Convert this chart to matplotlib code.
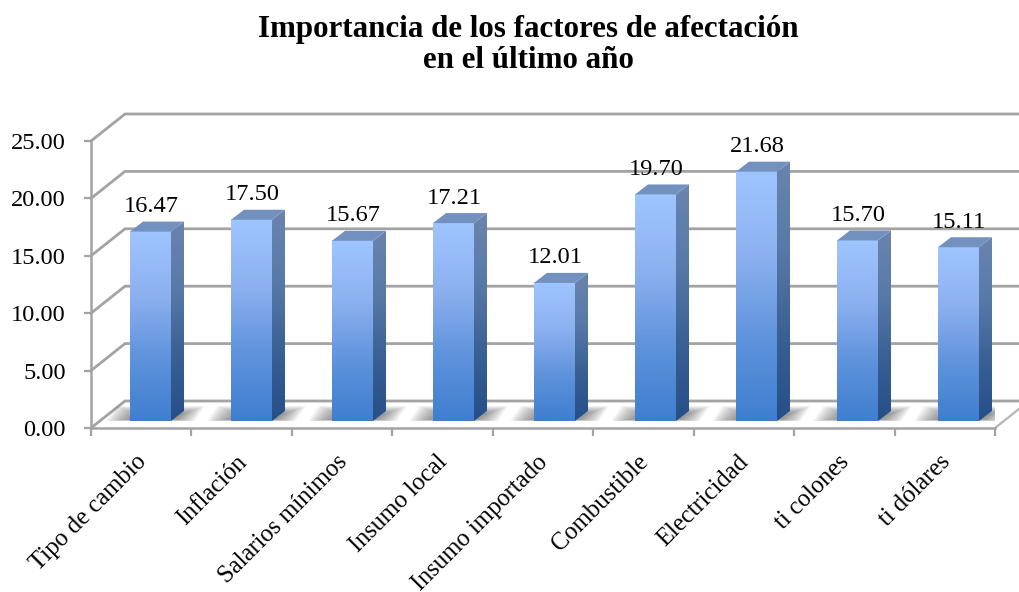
import matplotlib
matplotlib.use("Agg")
import matplotlib.pyplot as plt
import numpy as np
from matplotlib.colors import LinearSegmentedColormap
from matplotlib.patches import Polygon
from matplotlib.transforms import ScaledTranslation

categories = ["Tipo de cambio", "Inflación", "Salarios mínimos", "Insumo local",
              "Insumo importado", "Combustible", "Electricidad", "ti colones", "ti dólares"]
values = [16.47, 17.50, 15.67, 17.21, 12.01, 19.70, 21.68, 15.70, 15.11]
y_ticks = [0, 5, 10, 15, 20, 25]
title = "Importancia de los factores de afectación\nen el último año"

W, H = 1019, 592
plt.rcParams["font.family"] = ["Liberation Serif", "DejaVu Serif"]

fig = plt.figure(figsize=(W / 100, H / 100), dpi=100)
ax = fig.add_axes([91 / W, (H - 428) / H, 904 / W, 287 / H])
ax.set_xlim(0, len(categories))
ax.set_ylim(0, 25)

# pixel sizes turned into data units
px_x = len(categories) / 904
px_y = 25 / 287
depth_x, depth_y = 34 * px_x, 27 * px_y

grid_col = "#a3a3a3"
front_cmap = LinearSegmentedColormap.from_list("front", ["#9fc5ff", "#8db1f0", "#5f93dc", "#3f7ecf"])
side_cmap = LinearSegmentedColormap.from_list("side", ["#6a84ae", "#587aa8", "#3a6094", "#254f88"])
grad = np.linspace(0, 1, 256).reshape(-1, 1)

# back wall lines and floor
for v in y_ticks:
    ax.plot([0, depth_x, len(categories) + depth_x], [v, v + depth_y, v + depth_y],
            color=grid_col, lw=2, clip_on=False, zorder=1, solid_joinstyle="miter")
ax.plot([len(categories), len(categories) + depth_x], [0, depth_y],
        color="#b5b5b5", lw=1.6, clip_on=False, zorder=1)

bar_w = 41 * px_x
bar_dx, bar_dy = 13 * px_x, 10 * px_y
base_y = 7 * px_y
pitch = 101 * px_x
first_x = 39 * px_x

for i, v in enumerate(values):
    x0 = first_x + i * pitch
    x1 = x0 + bar_w
    y0 = base_y
    y1 = base_y + v * (11.5 * px_y)

    # soft floor shadow, built up from stacked parallelograms that shrink
    steps = 20
    for k in range(steps):
        grow = (steps - k) * 1.1 * px_x
        low = y0 + k * 0.06 * px_y
        high = y0 + (15 - k * 0.4) * px_y
        ax.add_patch(Polygon([(x0 - 2 * px_x - grow, low), (x1 + 2 * px_x + grow, low),
                              (x1 + 12 * px_x + grow, high),
                              (x0 + 8 * px_x - grow, high)],
                             closed=True, fc="#555555", ec="none", alpha=0.04, zorder=2))

    # front face
    ax.imshow(grad, cmap=front_cmap, extent=(x0, x1, y0, y1), aspect="auto",
              origin="upper", zorder=4, vmin=0, vmax=1)
    # side face
    side = Polygon([(x1, y0), (x1 + bar_dx, y0 + bar_dy), (x1 + bar_dx, y1 + bar_dy), (x1, y1)],
                   closed=True, transform=ax.transData, fc="none", ec="none")
    ax.add_patch(side)
    im = ax.imshow(grad, cmap=side_cmap, extent=(x1, x1 + bar_dx, y0, y1 + bar_dy), aspect="auto",
                   origin="upper", zorder=4, vmin=0, vmax=1)
    im.set_clip_path(side)
    # top face
    ax.add_patch(Polygon([(x0, y1), (x1, y1), (x1 + bar_dx, y1 + bar_dy), (x0 + bar_dx, y1 + bar_dy)],
                         closed=True, fc="#7391bf", ec="none", zorder=5, clip_on=False))
    ax.text((x0 + x1) / 2 + 0.5 * px_x, y1 + 25 * px_y, f"{v:.2f}", ha="center", va="center",
            fontsize=17.6, color="black", zorder=6, clip_on=False)

ax.set_xlim(0, len(categories))
ax.set_ylim(0, 25)

for name in ["top", "right"]:
    ax.spines[name].set_visible(False)
for name in ["left", "bottom"]:
    ax.spines[name].set_color(grid_col)
    ax.spines[name].set_linewidth(1.8)
ax.patch.set_alpha(0)

ax.set_yticks(y_ticks)
ax.set_yticklabels([f"{v:.2f}" for v in y_ticks], fontsize=17.6)
ax.tick_params(axis="y", color=grid_col, width=1.6, length=5, pad=13)

ax.set_xticks(range(len(categories) + 1))
ax.set_xticklabels([])
ax.tick_params(axis="x", which="major", color=grid_col, width=1.6, length=6)
ax.set_xticks(np.arange(len(categories)) + 0.5, minor=True)
ax.set_xticklabels(categories, minor=True, rotation=45, ha="right", rotation_mode="anchor",
                   fontsize=17.7)
ax.tick_params(axis="x", which="minor", length=0, pad=16.5)
shift = ScaledTranslation(-6 / 100, 0, fig.dpi_scale_trans)
for lab in ax.get_xticklabels(minor=True):
    lab.set_transform(lab.get_transform() + shift)

fig.text(528 / W, 1 - 45 / H, title, ha="center", va="center", fontsize=22.3, fontweight="bold",
         linespacing=1.12)

fig.savefig("out.png", dpi=100)
